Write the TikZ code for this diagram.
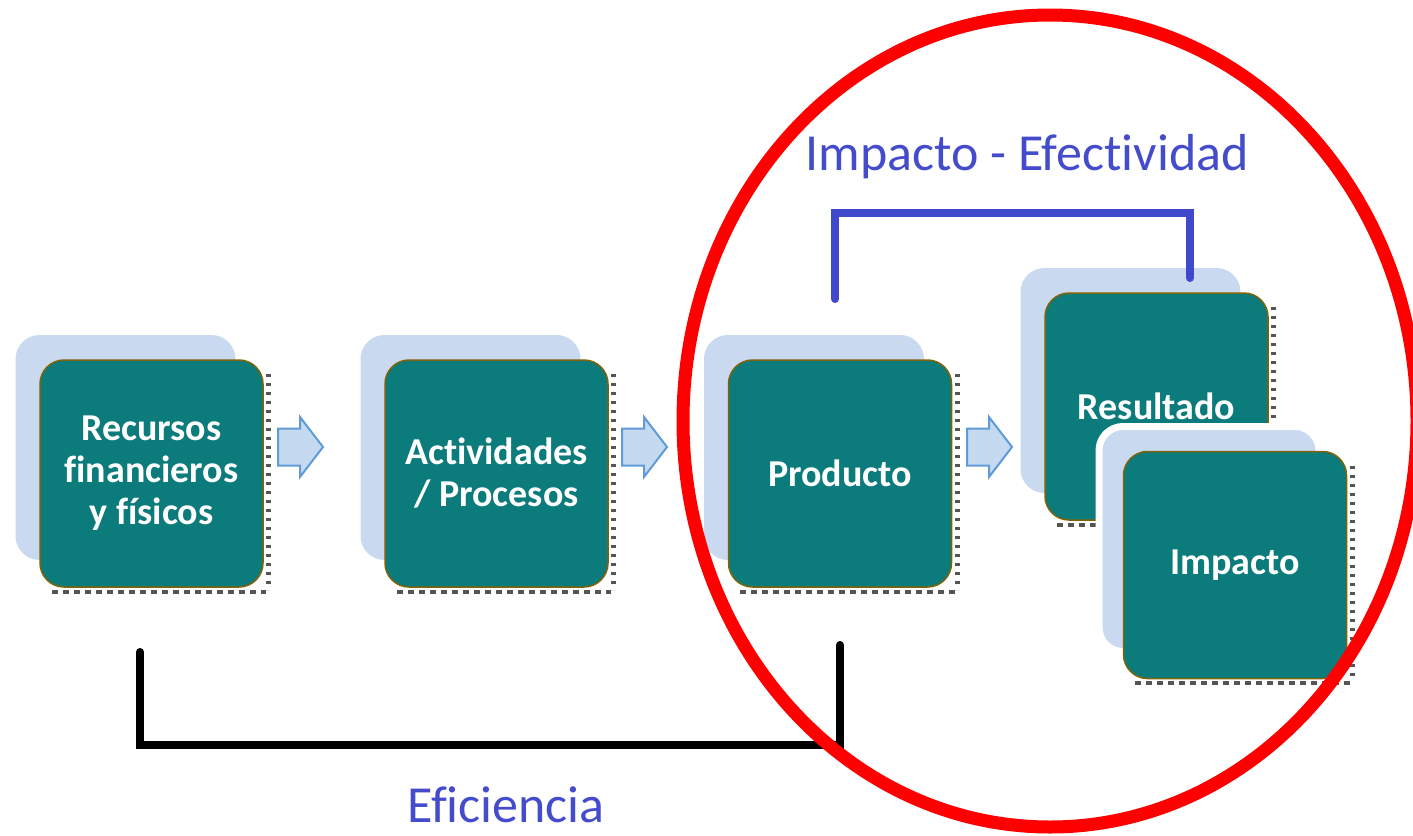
\documentclass[tikz,border=0pt]{standalone}
\usepackage{fontspec}
\setmainfont{Carlito}[Ligatures={NoCommon,NoContextual}]
\newcommand\nolig{\kern0pt }
\definecolor{tealbox}{RGB}{12,123,123}
\definecolor{tealedge}{RGB}{128,98,8}
\definecolor{shadowblue}{RGB}{200,217,240}
\definecolor{arrowfill}{RGB}{197,217,241}
\definecolor{arrowedge}{RGB}{95,155,215}
\definecolor{labelblue}{RGB}{68,76,204}
\definecolor{bracketblue}{RGB}{64,72,204}
\definecolor{dashgray}{RGB}{85,85,85}
\definecolor{ringred}{RGB}{255,0,0}
\begin{document}
\begin{tikzpicture}[x=1pt,y=-1pt,
  tealnode/.style={rectangle, rounded corners=24pt, minimum width=223pt, minimum height=227pt,
    fill=tealbox, draw=tealedge, line width=1.5pt, text=white,
    font=\fontsize{38}{42}\selectfont\bfseries, align=center, inner sep=0pt},
  backnode/.style={rectangle, rounded corners=24pt, minimum width=220pt, minimum height=225pt,
    fill=shadowblue, inner sep=0pt},
  rightdash/.style={draw=dashgray, line width=5pt, dash pattern=on 3pt off 6pt},
  bottomdash/.style={draw=dashgray, line width=4pt, dash pattern=on 6pt off 5pt},
  arrowstyle/.style={fill=arrowfill, draw=arrowedge, line width=2pt, line join=miter},
  bluelabel/.style={text=labelblue, font=\fontsize{52}{60}\selectfont, inner sep=0pt, anchor=base},
  bluebracket/.style={draw=bracketblue, line width=8pt, line cap=round},
  blackbracket/.style={draw=black, line width=8pt, line cap=round},
  ring/.style={draw=ringred, line width=13pt},
  blockarrow/.pic={\path[arrowstyle] (-22,-18.5) -- (0,-18.5) -- (0,-30) -- (23,0) -- (0,30) -- (0,18.5) -- (-22,18.5) -- cycle;}
]
\useasboundingbox (0,0) rectangle (1413,835);

% back plates
\node[backnode] (recsh) at (125.5,447.5) {};
\node[backnode] (actsh) at (470.5,447.5) {};
\node[backnode] (prodsh) at (814,447.5) {};
\node[backnode] (ressh) at (1130.5,380.5) {};

% dashed edges
\path[rightdash] (268,374) -- (268,590);
\path[bottomdash] (52,592) -- (266,592);
\path[rightdash] (613,374) -- (613,590);
\path[bottomdash] (397,592) -- (611,592);
\path[rightdash] (957,374) -- (957,590);
\path[bottomdash] (740,592) -- (955,592);
\path[rightdash] (1273,307) -- (1273,523);
\path[bottomdash] (1057,525) -- (1271,525);

% main boxes
\node[tealnode] (rec) at (151.5,473.5) {Recursos\\financieros\\y físicos};
\node[tealnode] (act) at (496.5,473.5) {Activ\nolig idades\\/ Procesos};
\node[tealnode] (prod) at (840,473.5) {Producto};
\node[tealnode] (res) at (1156.5,406.5) {Resultado};

% impacto group
\node[backnode, draw=white, line width=7pt] (impsh) at (1209,539) {};
\path[rightdash] (1352,466) -- (1352,681);
\path[bottomdash] (1135,683) -- (1350,683);
\node[tealnode] (imp) at (1235,565) {Impacto};

% block arrows
\pic at (300,447) {blockarrow};
\pic at (644,447) {blockarrow};
\pic at (989,447) {blockarrow};

% brackets
\coordinate (bl) at (835,299);
\coordinate (br) at (1190,278);
\draw[bluebracket] (bl) -- ++(0,-86) -| (br);
\coordinate (kl) at (140,652);
\coordinate (kr) at (840,645);
\draw[blackbracket] (kl) -- (140,745) -| (kr);

% labels
\node[bluelabel] (efect) at (1027,170) {Impacto - Efect\nolig ividad};
\node[bluelabel] (efic) at (506,822) {Eficiencia};

% red ring
\draw[ring] (1050,421) ellipse [x radius=367pt, y radius=406pt];
\end{tikzpicture}
\end{document}
